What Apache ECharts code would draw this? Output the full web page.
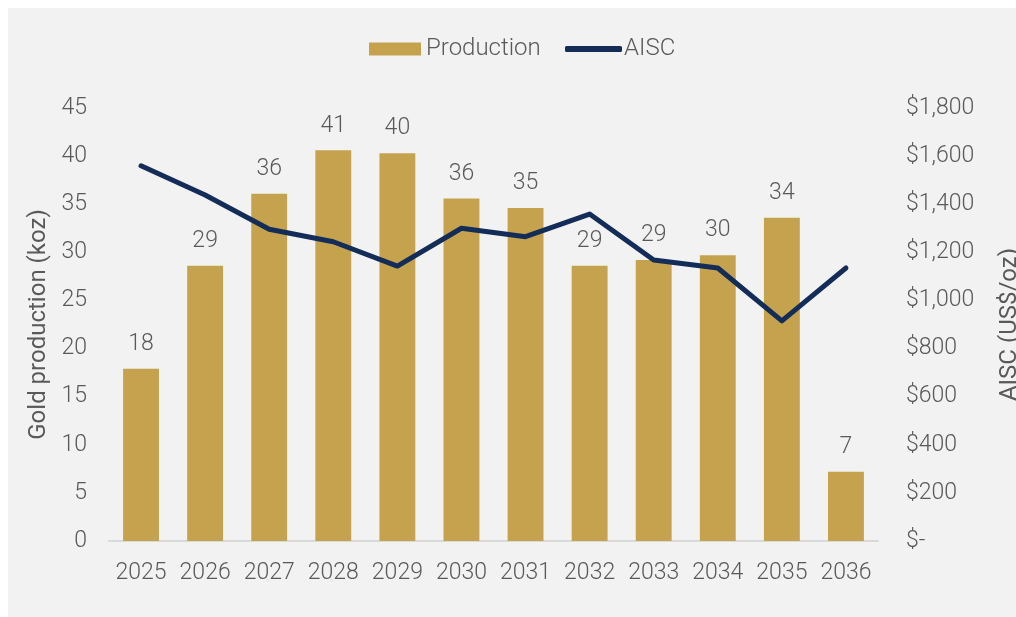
<!DOCTYPE html>
<html>
<head>
<meta charset="utf-8">
<script src="https://cdn.jsdelivr.net/npm/echarts@6/dist/echarts.min.js"></script>
<style>
html,body{margin:0;padding:0;background:#ffffff;}
#c{position:absolute;left:8px;top:8px;width:1008px;height:609px;background:#f2f2f2;}
</style>
</head>
<body>
<div id="c"></div>
<script>
const years = ['2025','2026','2027','2028','2029','2030','2031','2032','2033','2034','2035','2036'];
const production = [17.9, 28.6, 36.1, 40.6, 40.3, 35.6, 34.6, 28.6, 29.2, 29.7, 33.6, 7.2];
const aisc = [1560, 1438, 1296, 1244, 1143, 1300, 1265, 1359, 1168, 1135, 915, 1135];
const leftTicks = [0, 5, 10, 15, 20, 25, 30, 35, 40, 45];
const rightTicks = ['$-', '$200', '$400', '$600', '$800', '$1,000', '$1,200', '$1,400', '$1,600', '$1,800'];

const FONT = 'Roboto';
const TXT = '#595959';
const FS = 23;
const NAVY = '#142d58';
const chart = echarts.init(document.getElementById('c'));
const legendText = {fontSize: 24, color: TXT, fontFamily: FONT, fontWeight: 300};
chart.setOption({
  backgroundColor: '#f2f2f2',
  textStyle: {fontFamily: FONT},
  legend: [
    {
      top: 24, left: 356,
      itemWidth: 52, itemHeight: 13,
      textStyle: legendText,
      data: [{name: 'Production', icon: 'rect'}]
    },
    {
      top: 24, left: 552,
      itemWidth: 57, itemHeight: 6,
      textStyle: Object.assign({padding: [0, 0, 0, -3]}, legendText),
      data: [{name: 'AISC', icon: 'roundRect', itemStyle: {color: NAVY}}]
    }
  ],
  grid: {left: 101, right: 138, top: 100, bottom: 76, outerBoundsMode: 'none', containLabel: false},
  xAxis: {
    type: 'category', data: years,
    axisLine: {lineStyle: {color: '#d9d9d9', width: 2}},
    axisTick: {show: false},
    axisLabel: {color: TXT, fontSize: FS, fontFamily: FONT, fontWeight: 300, margin: 21, interval: 0}
  },
  yAxis: [
    {
      type: 'value', min: 0, max: 45, interval: 5,
      name: 'Gold production (koz)', nameLocation: 'middle', nameGap: 58,
      nameTextStyle: {color: TXT, fontSize: 24, fontFamily: FONT, fontWeight: 400},
      splitLine: {show: false},
      axisLabel: {color: TXT, fontSize: FS, fontFamily: FONT, fontWeight: 300, margin: 22,
        formatter: v => String(v)}
    },
    {
      type: 'value', min: 0, max: 1800, interval: 200,
      name: 'AISC (US$/oz)', nameLocation: 'middle', nameGap: 120, nameRotate: 90,
      nameTextStyle: {color: TXT, fontSize: 24, fontFamily: FONT, fontWeight: 400},
      splitLine: {show: false},
      axisLabel: {color: TXT, fontSize: FS, fontFamily: FONT, fontWeight: 300, margin: 28, align: 'left',
        formatter: v => rightTicks[Math.round(v / 200)]}
    }
  ],
  series: [
    {
      name: 'Production', type: 'bar', data: production, yAxisIndex: 0,
      barCategoryGap: '44%',
      itemStyle: {color: '#c5a24e'},
      label: {show: true, position: 'top', distance: 13, color: TXT, fontSize: FS, fontFamily: FONT, fontWeight: 300,
        formatter: p => Math.round(p.value)}
    },
    {
      name: 'AISC', type: 'line', data: aisc, yAxisIndex: 1,
      symbol: 'none', lineStyle: {color: NAVY, width: 5, cap: 'round', join: 'round'},
      itemStyle: {color: NAVY}
    }
  ]
});
</script>
</body>
</html>
